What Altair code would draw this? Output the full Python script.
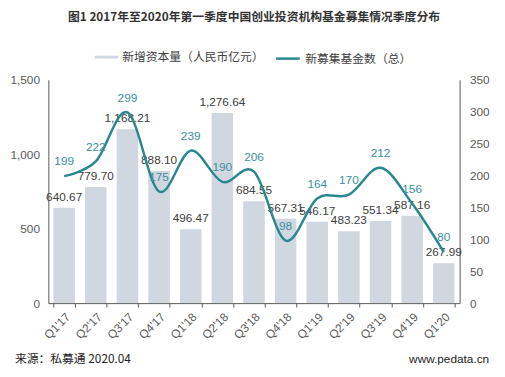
import altair as alt
import pandas as pd

quarters = ["Q1'17", "Q2'17", "Q3'17", "Q4'17", "Q1'18", "Q2'18", "Q3'18",
            "Q4'18", "Q1'19", "Q2'19", "Q3'19", "Q4'19", "Q1'20"]
capital = [640.67, 779.70, 1168.21, 888.10, 496.47, 1276.64, 684.55,
           567.31, 546.17, 483.23, 551.34, 587.16, 267.99]
funds = [199, 222, 299, 175, 239, 190, 206, 98, 164, 170, 212, 156, 80]

bar_name = "新增资本量（人民币亿元）"
line_name = "新募集基金数（总）"
title_text = "图1 2017年至2020年第一季度中国创业投资机构基金募集情况季度分布"
source_text = "来源：私募通 2020.04"
site_text = "www.pedata.cn"

BAR_C = "#d1d7e1"
LINE_C = "#2a8791"
LAB_C = "#3a8f9e"
TXT_C = "#404040"
AX_C = "#595959"
FONT = "Liberation Sans"
CJK = "Noto Sans CJK SC"

df = pd.DataFrame({"q": quarters, "cap": capital, "funds": funds,
                   "s1": bar_name, "s2": line_name})

x = alt.X("q:N", sort=quarters, title=None,
          scale=alt.Scale(paddingInner=0.32, paddingOuter=0.16),
          axis=alt.Axis(labelAngle=-45, tickBand="extent", tickSize=4,
                        labelFontSize=12, labelFont=FONT, labelColor=AX_C,
                        domainColor=AX_C, tickColor=AX_C, labelPadding=4))

yl = alt.Y("cap:Q", title=None, scale=alt.Scale(domain=[0, 1500]),
           axis=alt.Axis(values=[0, 500, 1000, 1500],
                         labelExpr="format(datum.value, ',')", grid=False,
                         ticks=False, labelPadding=9, labelFontSize=12,
                         labelFont=FONT, labelColor=AX_C, domainColor=AX_C))
yr = alt.Y("funds:Q", title=None, scale=alt.Scale(domain=[0, 350]),
           axis=alt.Axis(orient="right", values=list(range(0, 351, 50)),
                         grid=False, ticks=False, labelPadding=10,
                         labelFontSize=12, labelFont=FONT, labelColor=AX_C,
                         domainColor=AX_C))

base = alt.Chart(df)

bars = base.mark_bar(color=BAR_C).encode(
    x=x, y=yl,
    color=alt.Color("s1:N", scale=alt.Scale(domain=[bar_name], range=[BAR_C]),
                    legend=alt.Legend(orient="none", legendX=47, legendY=-35,
                                      title=None,
                                      symbolType="M-1,-0.12H1V0.12H-1Z",
                                      symbolSize=576, symbolStrokeWidth=0,
                                      labelFontSize=12, labelFont=CJK,
                                      labelColor=TXT_C, labelOffset=4)))
bar_text = base.mark_text(dy=-11, fontSize=12, font=FONT, color=TXT_C).encode(
    x=x, y=yl, text=alt.Text("cap:Q", format=",.2f"))

line = base.mark_line(interpolate="cardinal", strokeWidth=2.5).encode(
    x=x, y=yr,
    stroke=alt.Stroke("s2:N", scale=alt.Scale(domain=[line_name], range=[LINE_C]),
                      legend=alt.Legend(orient="none", legendX=230, legendY=-35,
                                        title=None,
                                        symbolType="stroke", symbolSize=576,
                                        symbolStrokeWidth=2.5,
                                        labelFontSize=12, labelFont=CJK,
                                        labelColor=TXT_C, labelOffset=4)))
line_text = base.mark_text(dy=-15, fontSize=12, font=FONT, color=LAB_C).encode(
    x=x, y=yr, text="funds:Q")

left = alt.layer(bars, bar_text)
right = alt.layer(line, line_text)

foot = pd.DataFrame({"t": [source_text]})
foot2 = pd.DataFrame({"t": [site_text]})
f1 = alt.Chart(foot).mark_text(align="left", fontSize=12, font=CJK, color="#222").encode(
    x=alt.value(-34), y=alt.value(284), text="t:N")
f2 = alt.Chart(foot2).mark_text(align="right", fontSize=12, font=FONT, color="#222").encode(
    x=alt.value(448), y=alt.value(284), text="t:N")

chart = alt.layer(left, right, f1, f2).resolve_scale(y="independent").properties(
    width=418, height=227,
    autosize=alt.AutoSizeParams(type="none"),
    padding={"left": 41, "top": 70, "right": 38, "bottom": 64},
    title=alt.Title(title_text, fontSize=12, fontWeight="bold", font=CJK,
                    color="#333333", anchor="middle", offset=22),
).configure_view(stroke=None).configure_legend(padding=0)

chart.save("out.html", embed_options={"renderer": "svg", "actions": False})
